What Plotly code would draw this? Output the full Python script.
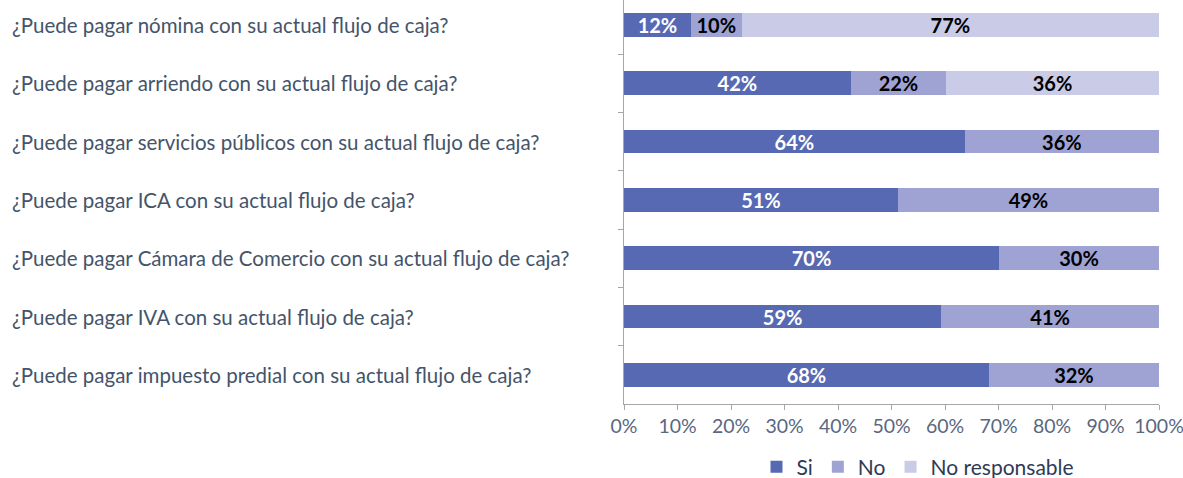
import plotly.graph_objects as go

categories = [
    "¿Puede pagar nómina con su actual flujo de caja?",
    "¿Puede pagar arriendo con su actual flujo de caja?",
    "¿Puede pagar servicios públicos con su actual flujo de caja?",
    "¿Puede pagar ICA con su actual flujo de caja?",
    "¿Puede pagar Cámara de Comercio con su actual flujo de caja?",
    "¿Puede pagar IVA con su actual flujo de caja?",
    "¿Puede pagar impuesto predial con su actual flujo de caja?",
]
si_values = [12.5, 42.4, 63.7, 51.2, 70.1, 59.3, 68.2]
no_values = [9.5, 17.8, 36.3, 48.8, 29.9, 40.7, 31.8]
nr_values = [78.0, 39.8, 0, 0, 0, 0, 0]
si_labels = ["12%", "42%", "64%", "51%", "70%", "59%", "68%"]
no_labels = ["10%", "22%", "36%", "49%", "30%", "41%", "32%"]
nr_labels = ["77%", "36%", "", "", "", "", ""]
x_ticks = [0, 10, 20, 30, 40, 50, 60, 70, 80, 90, 100]
x_tick_labels = [f"{t}%" for t in x_ticks]

FONT = "Lato"
TXT = "#44546A"
colors = {"Si": "#5769B2", "No": "#9FA3D3", "No responsable": "#CACBE6"}

fig = go.Figure()
for name, vals, labels, tcol in [
    ("Si", si_values, si_labels, "white"),
    ("No", no_values, no_labels, "black"),
    ("No responsable", nr_values, nr_labels, "black"),
]:
    fig.add_trace(go.Bar(
        name=name, y=categories, x=vals, orientation="h",
        marker=dict(color=colors[name], line=dict(width=0)),
        width=0.41,
        text=labels, textposition="inside", insidetextanchor="middle",
        textangle=0, constraintext="none", cliponaxis=False,
        textfont=dict(family=FONT, size=20, color=tcol, weight="bold"),
        hoverinfo="skip",
    ))

L, R, T, B = 624, 24, 0, 74
W, H = 1183, 478
plot_w = W - L - R
plot_h = H - T - B

for c in categories:
    fig.add_annotation(
        xref="paper", yref="y", x=(10 - L) / plot_w, y=c,
        text=c, showarrow=False, xanchor="left", yanchor="middle",
        font=dict(family=FONT, size=20.5, color=TXT),
    )

fig.update_layout(
    width=W, height=H,
    margin=dict(l=L, r=R, t=T, b=B, pad=0, autoexpand=False),
    barmode="stack",
    uniformtext=dict(mode=False),
    plot_bgcolor="white", paper_bgcolor="white",
    font=dict(family=FONT, size=20, color=TXT),
    legend=dict(
        orientation="h", x=(918 - L) / plot_w, xanchor="center",
        y=-(467 - 404) / plot_h, yanchor="middle",
        font=dict(family=FONT, size=21, color="#2F3B55"),
        itemwidth=30, traceorder="normal",
    ),
    xaxis=dict(
        range=[0, 100], tickvals=x_ticks, ticktext=x_tick_labels,
        showgrid=False, zeroline=False,
        showline=True, linecolor="#A6A6A6", linewidth=1,
        ticks="outside", ticklen=5, tickcolor="#A6A6A6",
        ticklabeloverflow="allow",
        tickfont=dict(family=FONT, size=19.5, color="#59677F"),
    ),
    yaxis=dict(
        type="category", categoryorder="array", categoryarray=categories,
        range=[6.5, 6.5 - 404 / 58.33],
        showticklabels=False, showgrid=False, zeroline=False,
        showline=True, linecolor="#A6A6A6", linewidth=1,
        ticks="outside", ticklen=5, tickcolor="#A6A6A6",
        tickson="boundaries",
    ),
)

fig.write_html("out.html")
